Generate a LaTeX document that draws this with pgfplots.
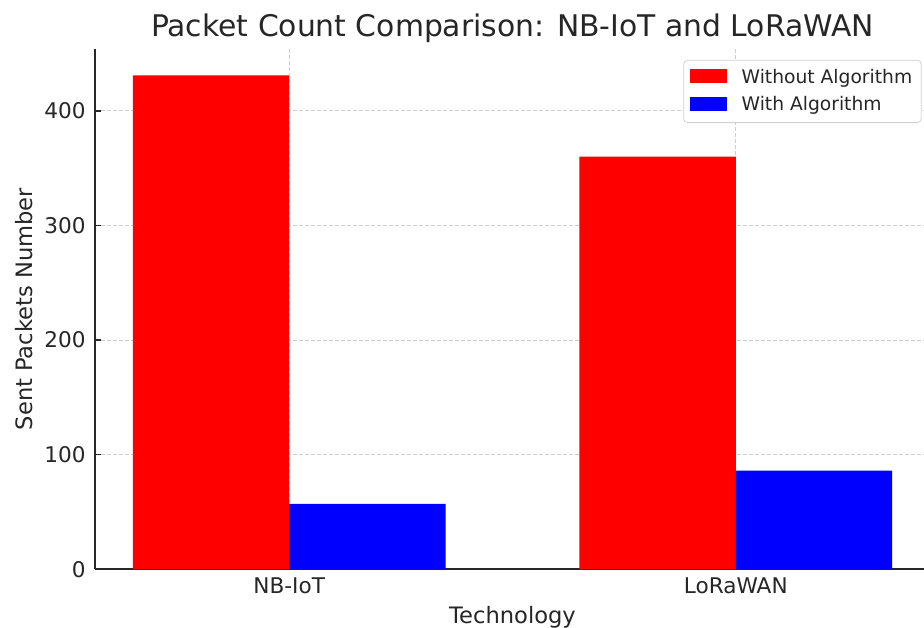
\documentclass[border=0pt]{standalone}
\usepackage{pgfplots}
\pgfplotsset{compat=1.18}
\usepackage{fontspec}
\setmainfont{DejaVu Sans}
\definecolor{txt}{RGB}{38,38,38}
\definecolor{spine}{RGB}{40,40,40}
\definecolor{gridc}{RGB}{205,205,205}
\begin{document}
\begin{tikzpicture}
\begin{axis}[
  name=ax,
  scale only axis,
  width=417.5pt, height=260.2pt,
  xmin=-0.435, xmax=1.435,
  ymin=0, ymax=454,
  axis x line*=bottom, axis y line*=left,
  axis line style={line width=0.9pt, color=spine},
  xtick={0,1}, xticklabels={NB-IoT,LoRaWAN},
  ytick={0,100,200,300,400},
  tick align=inside,
  major tick length=3pt,
  tick style={color=spine, line width=0.8pt},
  /pgf/number format/assume math mode=true,
  tick label style={font=\fontsize{10.8}{13}\selectfont, text=txt},
  yticklabel style={inner sep=0pt, anchor=east, xshift=-4.5pt},
  xticklabel style={inner sep=0pt, anchor=north, yshift=-3.85pt},
  grid=major,
  major grid style={color=gridc, line width=0.5pt, dash pattern=on 2pt off 1pt},
  every axis title shift=0pt,
  title={Packet Count Comparison: NB-IoT and LoRaWAN},
  title style={at={(axis description cs:0.5,1.0236)}, anchor=base, font=\fontsize{14.9}{17}\selectfont, text=txt, inner sep=0pt},
  xlabel={Technology},
  xlabel style={at={(axis description cs:0.5,-0.1032)}, anchor=base, font=\fontsize{11.3}{13}\selectfont, text=txt, inner sep=0pt},
  ylabel={Sent Packets Number},
  ylabel style={at={(axis description cs:-0.0743,0.5)}, anchor=base, font=\fontsize{11.3}{13}\selectfont, text=txt, inner sep=0pt},
  legend style={at={(axis description cs:0.990,0.979)}, anchor=north east,
    draw=black!18, rounded corners=2pt, fill=white,
    font=\fontsize{9.35}{11}\selectfont, text=txt,
    inner xsep=3pt, inner ysep=3pt, row sep=2pt,
    nodes={inner sep=1.5pt},
    /tikz/every odd column/.append style={column sep=6pt}},
  legend cell align=left,
  legend image code/.code={\fill[#1, sharp corners] (0pt,-2.8pt) rectangle (18.5pt,4.2pt);},
]
\addplot[ybar, bar width=0.35, bar shift=0pt, fill=red, draw=none] coordinates {(-0.175,431) (0.825,360)};
\addlegendentry{Without Algorithm}
\addplot[ybar, bar width=0.35, bar shift=0pt, fill=blue, draw=none] coordinates {(0.175,57) (1.175,86)};
\addlegendentry{With Algorithm}
\end{axis}
\pgfresetboundingbox
\path[use as bounding box] ([shift={(-47.5pt,-28.85pt)}]ax.south west) rectangle ([shift={(414.5pt,284.65pt)}]ax.south west);
\end{tikzpicture}
\end{document}
